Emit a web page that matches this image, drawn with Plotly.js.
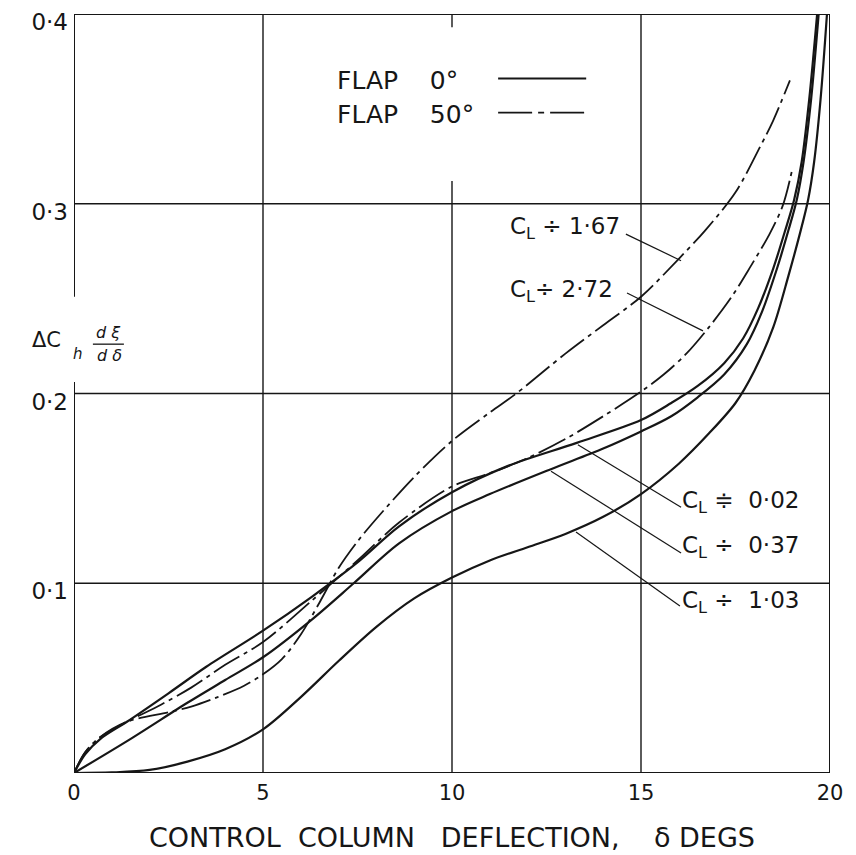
<!DOCTYPE html>
<html><head><meta charset="utf-8">
<script src="https://cdn.plot.ly/plotly-3.0.1.min.js"></script>
<style>html,body{margin:0;padding:0;background:#fff;}</style>
</head><body><div id="chart" style="width:856px;height:855px;"></div>
<script>
// ---- tick labels ----
const xTickVals = [0, 5, 10, 15, 20];
const xTickText = ["0", "5", "10", "15", "20"];
const yTickVals = [0.1, 0.2, 0.3, 0.4];
const yTickText = ["0·1", "0·2", "0·3", "0·4"];
const gridX = [5, 10, 15];
const gridY = [0.1, 0.2, 0.3];

// ---- series ----
// Flap 0 deg, C_L ~ 0.02
const f0_cl002_x = [0, 0.3, 0.7, 1.4, 2.5, 3.5, 5, 6.3, 7.5, 8.6, 10, 11.5, 13.3, 15, 15.8, 16.5, 17.2, 17.7, 18.1, 18.5, 18.8, 19.05, 19.25, 19.45, 19.66];
const f0_cl002_y = [0, 0.010, 0.018, 0.027, 0.042, 0.056, 0.075, 0.093, 0.111, 0.130, 0.148, 0.162, 0.174, 0.186, 0.195, 0.204, 0.216, 0.229, 0.245, 0.266, 0.285, 0.302, 0.322, 0.355, 0.400];
// Flap 0 deg, C_L ~ 0.37
const f0_cl037_x = [0, 1.5, 3, 4, 5, 6.3, 7.4, 8.6, 10, 11, 12.6, 14, 15, 15.8, 16.5, 17.2, 17.8, 18.2, 18.6, 18.9, 19.12, 19.3, 19.5, 19.7];
const f0_cl037_y = [0, 0.018, 0.037, 0.049, 0.061, 0.081, 0.100, 0.121, 0.138, 0.147, 0.160, 0.171, 0.180, 0.188, 0.198, 0.210, 0.226, 0.243, 0.266, 0.286, 0.302, 0.322, 0.355, 0.400];
// Flap 0 deg, C_L ~ 1.03
const f0_cl103_x = [0, 1, 2, 3, 4, 5, 6, 7, 8, 9, 10, 11, 12, 13, 14, 15, 16, 16.8, 17.5, 18.0, 18.5, 18.9, 19.2, 19.42, 19.58, 19.75, 19.92];
const f0_cl103_y = [0, 0.0003, 0.0016, 0.006, 0.0125, 0.023, 0.040, 0.059, 0.077, 0.092, 0.103, 0.112, 0.119, 0.126, 0.135, 0.147, 0.163, 0.179, 0.195, 0.212, 0.235, 0.262, 0.284, 0.302, 0.322, 0.355, 0.400];
// Flap 50 deg, C_L ~ 1.67
const f50_cl167_x = [0, 0.3, 0.7, 1.4, 2.5, 3.1, 3.8, 4.5, 5, 5.5, 6, 6.5, 7, 7.5, 8, 9, 10, 11, 11.7, 13, 14, 15, 16, 16.7, 17.5, 18.15, 18.5, 18.94];
const f50_cl167_y = [0, 0.011, 0.019, 0.027, 0.032, 0.035, 0.040, 0.046, 0.052, 0.060, 0.073, 0.090, 0.108, 0.122, 0.134, 0.156, 0.175, 0.190, 0.200, 0.221, 0.236, 0.251, 0.271, 0.286, 0.306, 0.330, 0.344, 0.365];
// Flap 50 deg, C_L ~ 2.72
const f50_cl272_x = [0, 0.3, 0.7, 1.4, 2.3, 3.1, 4, 5, 6.3, 7.5, 8.6, 10, 11, 12, 13, 14, 15, 15.6, 16.2, 16.8, 17.4, 17.9, 18.4, 18.75, 19.0];
const f50_cl272_y = [0, 0.011, 0.019, 0.027, 0.036, 0.045, 0.057, 0.069, 0.091, 0.112, 0.132, 0.151, 0.158, 0.166, 0.176, 0.188, 0.201, 0.210, 0.221, 0.235, 0.251, 0.267, 0.284, 0.299, 0.318];

const labelTexts = ["C<sub>L</sub> ÷ 1·67", "C<sub>L</sub>÷ 2·72", "C<sub>L</sub> ≑  0·02", "C<sub>L</sub> ÷  0·37", "C<sub>L</sub> ÷  1·03"];
const legendTexts = ["FLAP\u00A0\u00A0\u00A0\u00A00°", "FLAP\u00A0\u00A0\u00A0\u00A050°"];
const xTitle = "CONTROL\u00A0\u00A0COLUMN\u00A0\u00A0\u00A0DEFLECTION,\u00A0\u00A0\u00A0\u00A0δ\u00A0DEGS";

const INK = "#161616";
const FONT = "DejaVu Sans";

function solid(x, y, name) {
  return {x: x, y: y, name: name, type: "scatter", mode: "lines",
    line: {color: INK, width: 2.2, shape: "spline", smoothing: 0.9}, hoverinfo: "skip"};
}
function dashdot(x, y, name) {
  return {x: x, y: y, name: name, type: "scatter", mode: "lines",
    line: {color: INK, width: 1.8, shape: "spline", smoothing: 0.9, dash: "30px,5px,4px,5px"}, hoverinfo: "skip"};
}

const data = [
  solid(f0_cl002_x, f0_cl002_y, "Flap 0°, CL≑0·02"),
  solid(f0_cl037_x, f0_cl037_y, "Flap 0°, CL≑0·37"),
  solid(f0_cl103_x, f0_cl103_y, "Flap 0°, CL≑1·03"),
  dashdot(f50_cl167_x, f50_cl167_y, "Flap 50°, CL≑1·67"),
  dashdot(f50_cl272_x, f50_cl272_y, "Flap 50°, CL≑2·72")
];

const shapes = [];
function seg(x0, y0, x1, y1, w, dash, xref, yref) {
  shapes.push({type: "line", xref: xref || "x", yref: yref || "y", x0: x0, y0: y0, x1: x1, y1: y1,
    line: {color: INK, width: w, dash: dash || "solid"}, layer: "below"});
}
// grid lines
gridY.forEach(v => seg(0, v, 20, v, 1.4));
gridX.forEach(v => {
  if (v === 10) { seg(v, 0, v, 0.312, 1.4); seg(v, 0.393, v, 0.4, 1.4); }
  else seg(v, 0, v, 0.4, 1.4);
});
// frame (left side interrupted by the axis label)
seg(0, 0, 20, 0, 2);
seg(0, 0.4, 20, 0.4, 2);
seg(20, 0, 20, 0.4, 2);
seg(0, 0, 0, 0.206, 2);
seg(0, 0.251, 0, 0.4, 2);
// legend samples
seg(11.22, 0.366, 13.55, 0.366, 1.8);
seg(11.22, 0.348, 13.57, 0.348, 1.8, "34px,6px,6px,6px");
// leader lines for the curve labels
seg(14.60, 0.284, 16.06, 0.270, 1.2);
seg(14.63, 0.253, 16.64, 0.233, 1.2);
seg(16.06, 0.140, 13.33, 0.173, 1.2);
seg(16.06, 0.116, 12.62, 0.159, 1.2);
seg(16.03, 0.088, 13.28, 0.127, 1.2);
// fraction bar of the y label (paper coords)
seg(0.025, 0.565, 0.066, 0.565, 1.3, null, "paper", "paper");

function ann(text, x, y, size, opts) {
  return Object.assign({text: text, x: x, y: y, xref: "x", yref: "y", showarrow: false,
    xanchor: "left", yanchor: "middle", font: {family: FONT, size: size, color: INK}}, opts || {});
}
const annotations = [
  ann(legendTexts[0], 6.9, 0.365, 25),
  ann(legendTexts[1], 6.9, 0.347, 25),
  ann(labelTexts[0], 11.48, 0.287, 23),
  ann(labelTexts[1], 11.48, 0.254, 23),
  ann(labelTexts[2], 16.03, 0.143, 23),
  ann(labelTexts[3], 16.03, 0.119, 23),
  ann(labelTexts[4], 16.03, 0.090, 23),
  // y-axis label  ΔC_h dξ/dδ
  ann("ΔC", -0.058, 0.570, 21, {xref: "paper", yref: "paper"}),
  ann("<i>h</i>", 0.005, 0.552, 15, {xref: "paper", yref: "paper", xanchor: "center"}),
  ann("<i>d ξ</i>", 0.045, 0.580, 16, {xref: "paper", yref: "paper", xanchor: "center"}),
  ann("<i>d δ</i>", 0.047, 0.550, 16, {xref: "paper", yref: "paper", xanchor: "center"})
];

const layout = {
  width: 856, height: 855,
  margin: {l: 74, r: 26, t: 14, b: 82},
  paper_bgcolor: "#fff", plot_bgcolor: "#fff",
  showlegend: false,
  font: {family: FONT, color: INK},
  xaxis: {range: [0, 20], tickvals: xTickVals, ticktext: xTickText, showgrid: false, zeroline: false,
    showline: false, ticks: "", tickfont: {family: FONT, size: 21, color: INK}, ticklabelstandoff: 5,
    ticklabeloverflow: "allow",
    title: {text: xTitle, font: {family: FONT, size: 27, color: INK}, standoff: 24}},
  yaxis: {range: [0, 0.4], tickvals: yTickVals, ticktext: yTickText, showgrid: false, zeroline: false,
    showline: false, ticks: "", tickfont: {family: FONT, size: 23, color: INK}, ticklabelstandoff: 5,
    ticklabelshift: 8, ticklabeloverflow: "allow"},
  shapes: shapes,
  annotations: annotations
};

Plotly.newPlot("chart", data, layout, {displayModeBar: false, staticPlot: true});
</script></body></html>
